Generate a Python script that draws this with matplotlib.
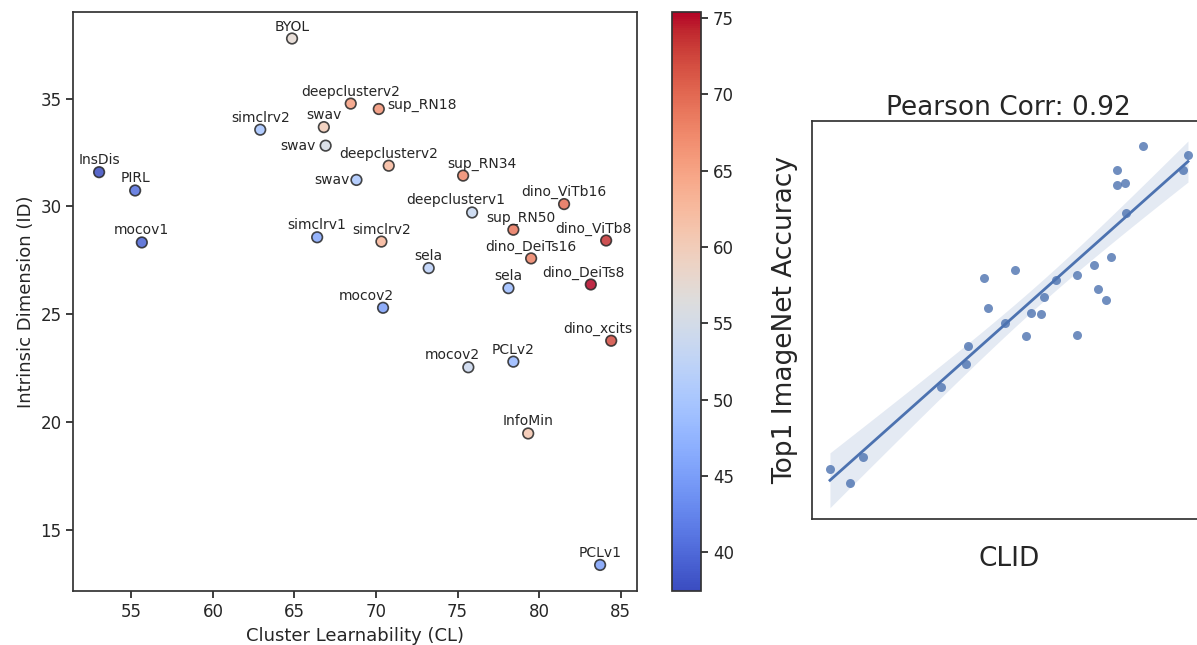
import numpy as np
import matplotlib
matplotlib.use("Agg")
import matplotlib.pyplot as plt
from matplotlib import cm, colors

# ---- left panel: cluster learnability vs intrinsic dimension ----
names = ["BYOL", "deepclusterv2", "sup_RN18", "simclrv2", "swav", "swav",
         "deepclusterv2", "sup_RN34", "InsDis", "PIRL", "swav", "deepclusterv1",
         "dino_ViTb16", "sup_RN50", "dino_ViTb8", "mocov1", "simclrv1", "simclrv2",
         "dino_DeiTs16", "sela", "sela", "dino_DeiTs8", "mocov2", "dino_xcits",
         "mocov2", "PCLv2", "InfoMin", "PCLv1"]
cl = [64.85, 68.45, 70.17, 62.90, 66.80, 66.91,
      70.78, 75.34, 53.02, 55.23, 68.80, 75.89,
      81.53, 78.42, 84.11, 55.64, 66.39, 70.33,
      79.51, 73.23, 78.12, 83.17, 70.43, 84.42,
      75.66, 78.42, 79.33, 83.74]
intrinsic_dim = [37.79, 34.77, 34.52, 33.56, 33.68, 32.82,
                 31.89, 31.43, 31.59, 30.74, 31.23, 29.72,
                 30.11, 28.92, 28.42, 28.33, 28.57, 28.37,
                 27.59, 27.14, 26.21, 26.38, 25.30, 23.77,
                 22.54, 22.80, 19.47, 13.37]
acc = [57.5, 65.5, 66.5, 49.5, 60.0, 55.5,
       62.5, 67.5, 37.44, 40.5, 50.0, 53.5,
       69.5, 69.0, 73.5, 39.5, 46.0, 63.0,
       68.0, 52.0, 48.5, 75.38, 45.0, 72.0,
       54.0, 48.0, 61.0, 45.0]

# ---- right panel: CLID vs top1 accuracy ----
clid = [0.30, 0.50, 0.63, 1.41, 1.66, 1.68, 1.84, 1.88, 2.05, 2.15,
        2.26, 2.31, 2.41, 2.44, 2.56, 2.77, 2.77, 2.94, 2.98, 3.06,
        3.11, 3.17, 3.17, 3.25, 3.26, 3.43, 3.83, 3.88]
top1 = [38.95, 37.44, 40.30, 48.25, 50.80, 52.80, 60.48, 57.14, 55.39, 61.35,
        53.96, 56.54, 56.47, 58.38, 60.29, 60.82, 54.10, 61.91, 59.21, 57.97,
        62.88, 72.68, 70.92, 71.15, 67.77, 75.38, 72.64, 74.33]

# label placement tweaks (pixels), default is centred above the marker
label_off = {2: (8, 0, "left"), 5: (-10, -4, "right"), 10: (-7, -4, "right"),
             7: (19, 8, "center"), 11: (-16, 8, "center"), 13: (8, 8, "center"),
             14: (-13, 8, "center"), 21: (-7, 8, "center"), 22: (-17, 8, "center"),
             23: (-13, 8, "center"), 24: (-16, 8, "center")}

plt.rcParams['font.family'] = 'DejaVu Sans'
plt.rcParams['text.color'] = '.15'
plt.rcParams['axes.labelcolor'] = '.15'
plt.rcParams['xtick.color'] = '.15'
plt.rcParams['ytick.color'] = '.15'
plt.rcParams['axes.edgecolor'] = '.2'
plt.rcParams['axes.linewidth'] = 1.25

fig = plt.figure(figsize=(11.97, 6.45), dpi=100)
ax = fig.add_axes([0.0614, 0.0833, 0.4706, 0.8978])
cax = fig.add_axes([0.5617, 0.0833, 0.024, 0.8978])
ax2 = fig.add_axes([0.6781, 0.1949, 0.3294, 0.618])

norm = colors.Normalize(vmin=min(acc), vmax=max(acc))
ax.scatter(cl, intrinsic_dim, c=acc, cmap='coolwarm', norm=norm, s=58, alpha=0.85,
           edgecolors='.15', linewidths=1.2, zorder=3)
for i, name in enumerate(names):
    dx, dy, ha = label_off.get(i, (0, 8, "center"))
    ax.annotate(name, (cl[i], intrinsic_dim[i]), xytext=(dx, dy),
                textcoords='offset pixels', ha=ha, va='baseline', fontsize=10)
ax.set_xlabel("Cluster Learnability (CL)", fontsize=13)
ax.set_ylabel("Intrinsic Dimension (ID)", fontsize=13)
ax.tick_params(labelsize=12, length=5, width=1.25)

cb = fig.colorbar(cm.ScalarMappable(norm=norm, cmap='coolwarm'), cax=cax)
cb.outline.set_linewidth(1.25)
cb.outline.set_edgecolor('.2')
cax.tick_params(labelsize=12, length=5, width=1.25)

# regression with confidence band
x = np.array(clid)
y = np.array(top1)
slope, intercept = np.polyfit(x, y, 1)
xs = np.linspace(x.min(), x.max(), 100)
fit = intercept + slope * xs
resid = y - (intercept + slope * x)
s_err = np.sqrt(np.sum(resid ** 2) / (len(x) - 2))
se = s_err * np.sqrt(1 / len(x) + (xs - x.mean()) ** 2 / np.sum((x - x.mean()) ** 2))
ax2.scatter(x, y, color='#4C72B0', alpha=0.8, s=42, linewidths=0, zorder=3)
ax2.fill_between(xs, fit - 1.65 * se, fit + 1.65 * se, color='#4C72B0', alpha=0.15, linewidth=0)
ax2.plot(xs, fit, color='#4C72B0', lw=2)
ax2.set_xlim(0.117, 4.06)
ax2.set_ylim(33.32, 78.19)
ax2.set_xticks([])
ax2.set_yticks([])
ax2.set_title("Pearson Corr: 0.92", fontsize=19, pad=1)
ax2.set_xlabel("CLID", fontsize=19, labelpad=19)
ax2.set_ylabel("Top1 ImageNet Accuracy", fontsize=19, labelpad=10)

fig.savefig("out.png", dpi=100)
